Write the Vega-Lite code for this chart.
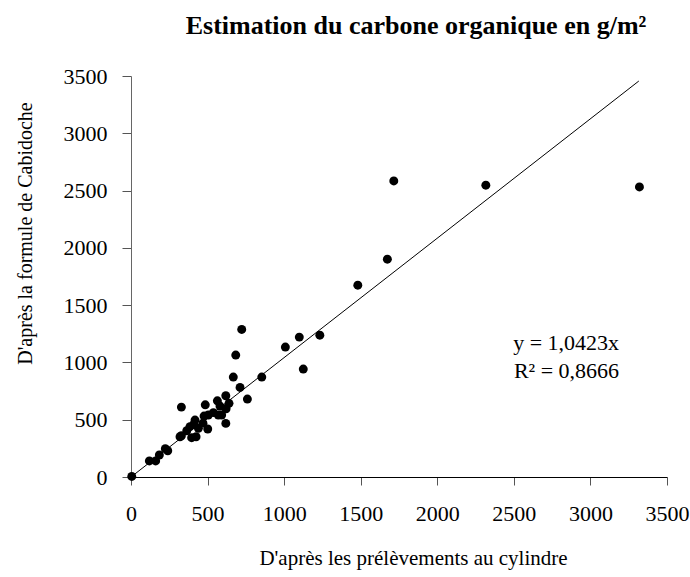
{
  "$schema": "https://vega.github.io/schema/vega-lite/v6.json",
  "width": 536,
  "height": 401,
  "autosize": {"type": "none"},
  "padding": {"left": 131, "top": 76, "right": 23, "bottom": 100},
  "background": "white",
  "config": {
    "view": {"stroke": null},
    "font": "Liberation Serif"
  },
  "title": {
    "text": "Estimation du carbone organique en g/m²",
    "font": "Liberation Serif",
    "fontSize": 26,
    "fontWeight": "bold",
    "color": "#000",
    "anchor": "middle",
    "dx": 17,
    "offset": 26
  },
  "datasets": {
    "points": [
      {"cyl": 5, "cab": 5},
      {"cyl": 120, "cab": 140},
      {"cyl": 161, "cab": 140},
      {"cyl": 185, "cab": 192},
      {"cyl": 224, "cab": 247},
      {"cyl": 240, "cab": 229},
      {"cyl": 329, "cab": 610},
      {"cyl": 329, "cab": 360},
      {"cyl": 320, "cab": 351},
      {"cyl": 385, "cab": 439},
      {"cyl": 396, "cab": 343},
      {"cyl": 418, "cab": 497},
      {"cyl": 425, "cab": 351},
      {"cyl": 440, "cab": 425},
      {"cyl": 364, "cab": 404},
      {"cyl": 410, "cab": 460},
      {"cyl": 470, "cab": 470},
      {"cyl": 501, "cab": 419},
      {"cyl": 485, "cab": 630},
      {"cyl": 477, "cab": 532},
      {"cyl": 505, "cab": 541},
      {"cyl": 538, "cab": 562},
      {"cyl": 564, "cab": 665},
      {"cyl": 581, "cab": 619},
      {"cyl": 570, "cab": 541},
      {"cyl": 592, "cab": 541},
      {"cyl": 619, "cab": 709},
      {"cyl": 621, "cab": 596},
      {"cyl": 619, "cab": 468},
      {"cyl": 640, "cab": 643},
      {"cyl": 668, "cab": 872},
      {"cyl": 684, "cab": 1064},
      {"cyl": 723, "cab": 1288},
      {"cyl": 712, "cab": 782},
      {"cyl": 760, "cab": 680},
      {"cyl": 854, "cab": 872},
      {"cyl": 1008, "cab": 1134},
      {"cyl": 1099, "cab": 1221},
      {"cyl": 1125, "cab": 942},
      {"cyl": 1233, "cab": 1238},
      {"cyl": 1481, "cab": 1674},
      {"cyl": 1674, "cab": 1901},
      {"cyl": 1716, "cab": 2584},
      {"cyl": 2317, "cab": 2547},
      {"cyl": 3320, "cab": 2532}
    ],
    "trend": [
      {"cyl": 0, "cab": 0},
      {"cyl": 3316, "cab": 3456}
    ],
    "labels": [
      {"cyl": 3187, "cab": 1171, "txt": "y = 1,0423x"},
      {"cyl": 3187, "cab": 924, "txt": "R² = 0,8666"}
    ]
  },
  "layer": [
    {
      "data": {"name": "trend"},
      "mark": {"type": "line", "color": "#000", "strokeWidth": 1},
      "encoding": {
        "x": {
          "field": "cyl", "type": "quantitative",
          "scale": {"domain": [0, 3500], "nice": false},
          "axis": {
            "values": [0, 500, 1000, 1500, 2000, 2500, 3000, 3500],
            "format": "d",
            "labelFlush": false,
            "labelOverlap": false,
            "title": "D'après les prélèvements au cylindre",
            "titleX": 282,
            "grid": false,
            "domainColor": "#000",
            "tickColor": "#555",
            "tickSize": 8,
            "labelFont": "Liberation Serif",
            "labelFontSize": 22,
            "labelColor": "#000",
            "labelPadding": 18,
            "titleFont": "Liberation Serif",
            "titleFontSize": 21,
            "titleFontWeight": "normal",
            "titleColor": "#000",
            "titlePadding": 23
          }
        },
        "y": {
          "field": "cab", "type": "quantitative",
          "scale": {"domain": [0, 3500], "nice": false},
          "axis": {
            "values": [0, 500, 1000, 1500, 2000, 2500, 3000, 3500],
            "format": "d",
            "labelFlush": false,
            "labelOverlap": false,
            "title": "D'après la formule de Cabidoche",
            "titleY": 157,
            "grid": false,
            "domainColor": "#666",
            "tickColor": "#555",
            "tickSize": 9,
            "labelFont": "Liberation Serif",
            "labelFontSize": 22,
            "labelColor": "#000",
            "labelPadding": 15,
            "titleFont": "Liberation Serif",
            "titleFontSize": 20,
            "titleFontWeight": "normal",
            "titleColor": "#000",
            "titlePadding": 28
          }
        }
      }
    },
    {
      "data": {"name": "points"},
      "mark": {"type": "circle", "color": "#000", "opacity": 1, "size": 80},
      "encoding": {
        "x": {"field": "cyl", "type": "quantitative"},
        "y": {"field": "cab", "type": "quantitative"}
      }
    },
    {
      "data": {"name": "labels"},
      "mark": {"type": "text", "align": "right", "baseline": "middle", "font": "Liberation Serif", "fontSize": 22, "color": "#000"},
      "encoding": {
        "x": {"field": "cyl", "type": "quantitative"},
        "y": {"field": "cab", "type": "quantitative"},
        "text": {"field": "txt"}
      }
    }
  ]
}
